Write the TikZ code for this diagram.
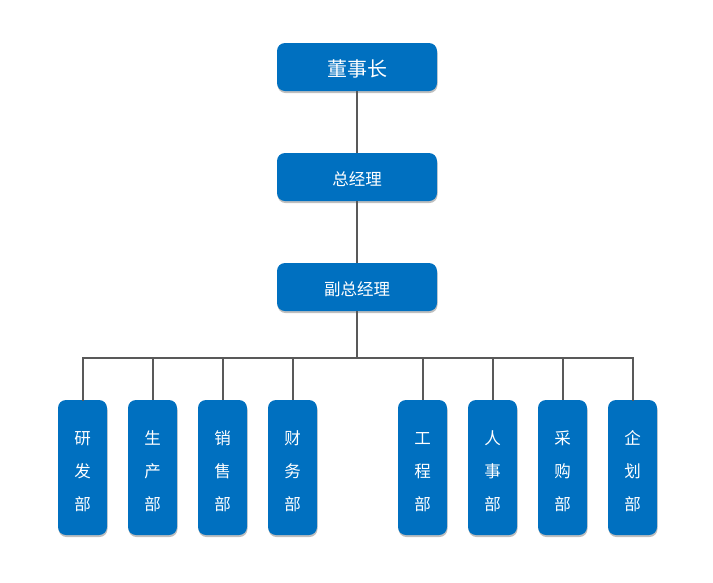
\documentclass[tikz,border=0pt]{standalone}
\usepackage{fontspec}
\setmainfont{Noto Sans CJK SC}
\usetikzlibrary{shadows}
\definecolor{boxblue}{HTML}{0070C0}
\definecolor{linegray}{HTML}{595959}
\newcommand\deptstack[3]{\raisebox{-3pt}[\height][\depth]{\begin{tabular}{@{}c@{}}#1\\#2\\#3\end{tabular}}}
\tikzset{
  x=1pt, y=-1pt,
  bluebox/.style={fill=boxblue, draw=none, rounded corners=8pt, text=white,
    drop shadow={shadow xshift=0.5pt, shadow yshift=-2pt, fill=black, opacity=0.25},
    inner sep=0pt, align=center},
  topbox/.style={bluebox, minimum width=160pt, minimum height=48pt,
    font=\fontsize{16.5}{18}\selectfont, text height=19pt, text depth=2pt},
  deptbox/.style={bluebox, minimum width=49pt, minimum height=135pt, font=\fontsize{16.5}{33}\selectfont},
  conn/.style={draw=linegray, line width=2pt}
}
\begin{document}
\begin{tikzpicture}
\useasboundingbox (0,0) rectangle (713,582);
\node[topbox, font=\fontsize{20}{22}\selectfont, text height=22pt, text depth=2.5pt] (ceo) at (357,67) {董事长};
\node[topbox] (gm) at (357,177) {总经理};
\node[topbox] (vgm) at (357,287) {副总经理};
\coordinate (bus) at (357,358);
\foreach \n/\x/\a/\b/\c in {d1/82.5/研/发/部, d2/152.5/生/产/部, d3/222.5/销/售/部, d4/292.5/财/务/部,
                      d5/422.5/工/程/部, d6/492.5/人/事/部, d7/562.5/采/购/部, d8/632.5/企/划/部}{
  \node[deptbox] (\n) at (\x,467.5) {\deptstack{\a}{\b}{\c}};
}
\draw[conn] (ceo.south) -- (gm.north);
\draw[conn] (gm.south) -- (vgm.north);
\draw[conn] (vgm.south) -- (bus);
\draw[conn, line cap=rect] (d1.north) |- (bus) -| (d8.north);
\foreach \n in {d2,d3,d4,d5,d6,d7}{
  \draw[conn] (\n.north) -- (\n.north |- bus);
}
\end{tikzpicture}
\end{document}
